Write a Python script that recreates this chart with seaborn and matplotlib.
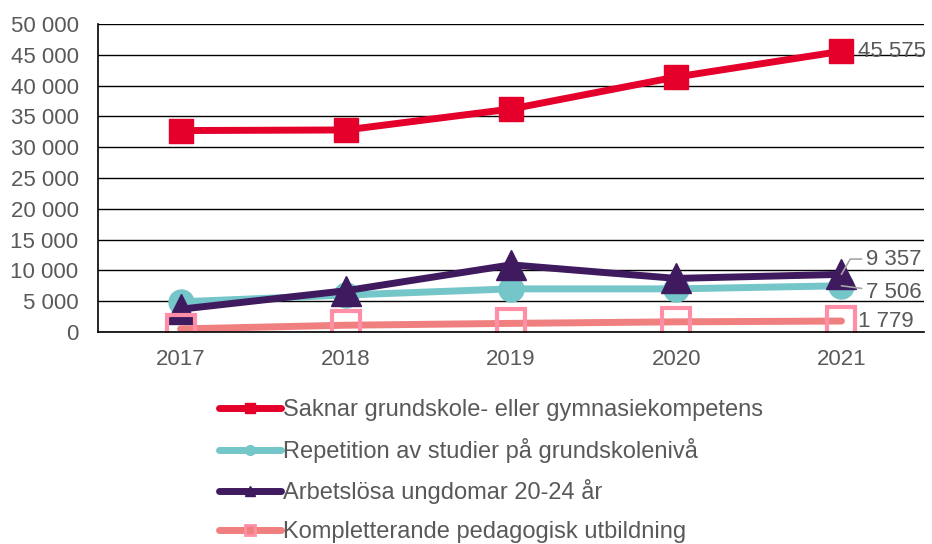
import pandas as pd
import matplotlib.pyplot as plt
import seaborn as sns
from matplotlib.lines import Line2D

years = ["2017", "2018", "2019", "2020", "2021"]
saknar = [32700, 32800, 36200, 41400, 45575]
repetition = [4900, 6000, 7000, 7000, 7506]
arbetslosa = [3700, 6700, 10900, 8700, 9357]
kompletterande = [500, 1100, 1400, 1650, 1779]

names = ["Saknar grundskole- eller gymnasiekompetens",
         "Repetition av studier på grundskolenivå",
         "Arbetslösa ungdomar 20-24 år",
         "Kompletterande pedagogisk utbildning"]
series = [saknar, repetition, arbetslosa, kompletterande]

sns.set_style("white")
plt.rcParams["font.family"] = ["Liberation Sans", "DejaVu Sans"]
grey = "#595959"

fig = plt.figure(figsize=(9.32, 5.44), dpi=100)
ax = fig.add_axes([98/932, 1 - 332/544, (924 - 98)/932, (332 - 24)/544])

styles = [
    dict(color="#E4002B", marker="s", markersize=17, mfc="#E4002B", mec="#E4002B", lw=5),
    dict(color="#74C6C8", marker="o", markersize=18, mfc="#74C6C8", mec="#74C6C8", lw=5),
    dict(color="#3F1A5F", marker="^", markersize=22, mfc="#3F1A5F", mec="#3F1A5F", lw=5),
    dict(color="#F07F7F", marker="s", markersize=20, mfc="none", mec="#FF8FA6", mew=3, lw=5),
]

x = list(range(len(years)))
for name, vals, st in zip(names, series, styles):
    df = pd.DataFrame({"x": x, "v": vals})
    sns.lineplot(data=df, x="x", y="v", ax=ax, color=st["color"], lw=st["lw"],
                 marker=st["marker"], markersize=st["markersize"],
                 markerfacecolor=st["mfc"], markeredgecolor=st["mec"],
                 markeredgewidth=st.get("mew", 1), solid_capstyle="round")

ax.set_xlim(-0.5, 4.5)
ax.set_ylim(0, 50000)
ax.set_yticks(range(0, 50001, 5000))
ax.set_yticklabels([f"{v:,}".replace(",", " ") for v in range(0, 50001, 5000)])
ax.set_xticks(x)
ax.set_xticklabels(years)
ax.set_xlabel("")
ax.set_ylabel("")
ax.tick_params(axis="both", length=0, labelsize=16, colors=grey)
ax.tick_params(axis="y", pad=14)
ax.tick_params(axis="x", pad=12)
ax.grid(axis="y", color="black", lw=1)
ax.set_axisbelow(True)
for side in ["top", "right"]:
    ax.spines[side].set_visible(False)
ax.spines["left"].set_color("black")
ax.spines["bottom"].set_color("black")
ax.spines["left"].set_linewidth(1.2)
ax.spines["bottom"].set_linewidth(1.2)

# data labels at 2021
ax.annotate("45 575", (4, saknar[-1]), xytext=(12, 0), textcoords="offset points",
            va="center", ha="left", fontsize=16, color=grey)
ax.annotate("9 357", (4, arbetslosa[-1]), xytext=(18, 11), textcoords="offset points",
            va="center", ha="left", fontsize=16, color=grey,
            arrowprops=dict(arrowstyle="-", color="#A6A6A6", lw=1.2,
                            connectionstyle="angle,angleA=0,angleB=60,rad=0",
                            shrinkA=1, shrinkB=0))
ax.annotate("7 506", (4, repetition[-1]), xytext=(18, -5), textcoords="offset points",
            va="center", ha="left", fontsize=16, color=grey,
            arrowprops=dict(arrowstyle="-", color="#A6A6A6", lw=1.2, shrinkA=1, shrinkB=0))
ax.annotate("1 779", (4, kompletterande[-1]), xytext=(12, 0), textcoords="offset points",
            va="center", ha="left", fontsize=16, color=grey)

handles = [Line2D([0], [0], color=st["color"], lw=5, marker=st["marker"],
                  markersize=7, markerfacecolor=st["mfc"] if st["mfc"] != "none" else st["color"],
                  markeredgecolor=st["mec"], markeredgewidth=2 if st["mfc"] == "none" else 1,
                  solid_capstyle="round")
           for st in styles]
fig.legend(handles, names, loc="upper left", bbox_to_anchor=(210/932, 1 - 390/544),
           frameon=False, fontsize=17, labelcolor=grey, handlelength=2.6,
           handletextpad=0.1, labelspacing=0.7, borderaxespad=0)

fig.savefig("out.png", dpi=100)
